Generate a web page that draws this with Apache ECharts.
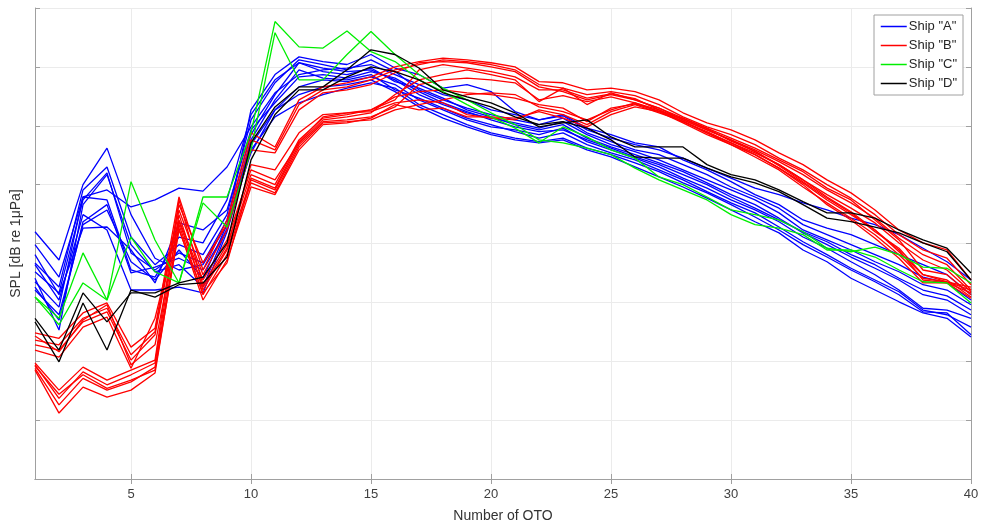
<!DOCTYPE html>
<html><head><meta charset="utf-8">
<script src="https://cdn.jsdelivr.net/npm/echarts@6/dist/echarts.min.js"></script>
<style>html,body{margin:0;padding:0;background:#fff}#c{width:984px;height:530px}</style>
</head><body><div id="c"></div>
<script>
// One-third-octave band numbers (x categories)
const otoBands = [1,2,3,4,5,6,7,8,9,10,11,12,13,14,15,16,17,18,19,20,21,22,23,24,25,26,27,28,29,30,31,32,33,34,35,36,37,38,39,40];
const xTickLabels = ['5','10','15','20','25','30','35','40'];
const yMin = 0, yMax = 80, yStep = 10; // relative dB, labels hidden as in the source

// Ship "A" (blue)
const shipA1 = [39.8,34.3,47.9,49.1,46.2,47.4,49.4,48.9,53.0,59.8,65.6,68.7,69.5,69.8,70.4,68.7,67.0,65.3,64.4,62.7,61.9,61.0,61.7,59.3,57.9,56.8,55.9,54.5,52.8,51.1,49.4,48.3,46.9,45.7,44.3,43.2,41.5,39.2,36.9,33.8];
const shipA2 = [42.0,37.2,50.0,56.2,44.9,37.5,35.5,36.4,43.2,62.7,68.7,71.7,70.9,70.4,72.1,69.8,68.7,66.4,67.0,65.8,62.4,61.0,61.9,59.6,58.5,57.1,56.4,54.2,52.5,50.5,48.3,46.6,44.0,42.6,41.5,39.8,38.1,36.4,34.7,31.3];
const shipA3 = [36.7,32.6,49.1,53.0,41.1,36.4,39.8,38.1,44.9,61.0,67.3,71.2,70.4,69.5,71.2,69.2,66.1,64.4,63.0,61.9,61.0,60.2,61.3,58.8,57.3,55.9,55.1,53.4,51.7,49.6,47.9,46.0,43.2,41.5,39.8,38.1,36.4,34.3,33.3,30.4];
const shipA4 = [35.2,31.6,47.4,52.0,38.4,35.5,38.4,36.7,44.0,58.5,65.3,70.7,69.8,69.2,69.5,67.8,65.3,63.6,62.2,61.3,60.5,59.6,60.7,58.5,56.8,55.6,54.2,52.5,50.8,49.1,47.4,45.2,42.3,40.6,38.9,36.9,35.2,33.0,32.1,29.6];
const shipA5 = [33.5,29.2,47.9,47.4,35.5,34.3,41.1,40.1,47.4,61.9,67.8,70.7,69.2,68.7,69.8,67.5,66.4,64.7,62.7,61.5,60.2,59.3,60.2,57.9,56.4,55.1,53.7,52.2,50.3,48.3,46.6,44.3,41.8,39.8,37.7,35.8,33.8,31.3,30.4,27.9];
const shipA6 = [32.6,27.0,43.7,46.6,35.0,36.0,37.5,35.5,42.3,56.8,62.7,66.6,67.8,67.5,68.3,67.0,64.4,62.7,61.0,59.8,59.3,58.5,59.6,57.3,55.9,54.5,53.0,51.1,49.4,47.4,45.7,43.7,41.1,39.2,36.9,34.7,32.1,29.0,28.7,27.3];
const shipA7 = [38.1,31.3,42.6,42.8,38.9,33.3,43.5,42.3,45.7,59.3,63.9,68.3,68.7,68.1,69.2,68.1,65.8,63.9,62.4,61.0,59.8,59.0,59.3,57.6,56.2,54.7,53.4,51.7,50.0,47.9,46.0,44.0,42.0,40.3,38.1,36.4,34.1,32.1,31.1,28.7];
const shipA8 = [36.4,30.4,44.9,42.3,32.1,32.1,32.6,31.6,42.0,55.9,61.5,63.9,65.3,66.4,67.3,66.4,63.6,61.9,60.2,58.8,57.9,57.3,57.9,56.2,55.1,53.7,52.2,50.3,48.6,46.6,44.5,42.3,39.8,37.7,35.5,33.5,31.3,28.4,28.2,24.5];
const shipA9 = [34.1,25.3,46.6,51.7,39.8,35.2,36.4,32.6,42.6,57.6,64.4,69.5,68.1,67.8,68.7,66.1,64.7,63.0,61.3,60.2,59.0,57.9,58.8,56.8,55.4,54.2,52.5,50.8,48.8,46.9,45.2,42.8,40.3,38.1,35.8,33.8,31.8,28.7,27.9,25.8];
const shipA10 = [32.1,27.9,43.2,45.7,36.9,33.8,38.9,34.1,43.2,55.4,62.7,65.3,66.6,67.0,67.8,65.8,63.2,61.3,59.8,58.5,57.6,57.1,57.6,55.9,54.7,53.0,51.3,49.6,47.7,45.7,43.7,41.8,38.9,36.9,34.1,32.1,30.1,28.2,27.3,24.1];

// Ship "B" (red)
const shipB1 = [24.8,23.9,28.2,29.9,22.4,25.6,47.9,35.5,44.0,58.8,56.4,64.4,66.6,67.3,68.3,70.0,70.9,71.5,71.2,70.7,70.0,67.5,67.3,66.1,66.4,65.8,64.4,62.2,60.5,59.3,57.6,55.4,53.4,50.8,48.6,45.7,42.3,40.1,38.9,33.8];
const shipB2 = [23.6,22.8,27.3,29.0,21.1,25.0,46.6,36.7,43.2,57.6,55.9,63.6,66.1,66.6,67.8,69.5,70.4,71.2,70.9,70.4,69.5,67.0,66.4,65.3,65.8,65.1,63.6,61.5,59.8,58.5,56.8,54.5,52.5,50.0,47.7,44.9,41.5,38.9,37.5,33.0];
const shipB3 = [22.8,21.9,26.7,28.4,20.2,24.5,45.7,34.7,42.3,55.9,55.4,62.7,65.6,66.1,67.0,69.0,70.7,70.9,70.7,70.0,69.2,66.6,65.8,64.4,65.3,64.4,63.0,61.0,59.3,57.6,55.9,53.9,51.7,49.1,46.9,44.3,40.9,38.1,36.4,32.1];
const shipB4 = [21.9,20.7,25.8,27.5,18.8,27.3,44.0,33.8,40.6,52.5,50.8,57.1,61.0,61.5,62.2,65.3,67.8,68.7,69.5,68.7,67.8,64.1,66.4,63.6,65.6,64.4,63.0,61.3,59.6,57.9,56.2,54.2,52.2,49.4,47.4,44.0,40.6,35.5,34.7,31.3];
const shipB5 = [19.7,15.1,19.0,16.8,18.5,20.2,47.4,33.0,39.8,51.7,50.0,57.6,61.3,61.9,62.7,64.4,69.5,70.4,69.8,69.2,68.3,66.1,66.1,64.7,65.4,64.6,62.7,60.7,58.8,57.1,55.4,53.4,50.8,48.3,46.0,43.5,40.1,37.2,35.5,31.8];
const shipB6 = [19.4,13.7,18.2,16.0,17.7,19.7,44.9,32.1,38.9,50.8,49.1,56.8,60.7,61.0,61.5,63.2,67.0,67.8,68.1,67.8,67.3,64.4,65.1,64.1,64.9,63.9,62.4,60.5,58.5,56.8,55.1,52.8,50.3,47.4,44.9,42.3,38.6,34.7,33.8,30.9];
const shipB7 = [18.8,12.6,17.1,15.1,16.5,19.0,43.2,31.3,38.1,50.3,48.6,56.4,60.5,60.7,61.0,62.7,63.6,64.4,65.3,65.6,65.3,63.2,62.4,61.0,62.7,63.9,62.7,61.0,59.3,57.6,55.6,53.4,50.8,47.9,45.4,42.3,38.9,33.8,33.3,31.6];
const shipB8 = [18.5,11.2,15.6,13.9,15.1,18.0,42.6,30.4,37.2,49.6,48.3,55.9,60.2,60.5,61.3,63.6,62.7,63.0,61.5,61.5,61.3,62.4,61.3,59.8,61.9,63.2,62.4,60.7,59.0,57.1,55.1,52.8,50.0,46.6,44.0,40.9,37.5,33.3,33.3,30.7];
const shipB9 = [19.2,14.4,17.7,15.4,16.8,18.5,42.3,31.6,36.7,51.1,49.4,57.3,61.5,62.2,62.4,63.9,64.4,63.9,61.9,61.3,61.0,62.7,61.9,60.2,62.4,63.6,62.2,60.8,58.8,56.8,54.7,52.5,49.6,46.9,44.3,41.5,38.1,34.1,33.5,32.1];
const shipB10 = [24.3,21.6,27.0,29.6,19.4,22.8,43.7,32.6,39.2,53.4,52.5,58.8,61.9,62.2,62.7,64.9,65.8,66.1,65.6,65.3,64.7,63.6,63.0,60.7,63.0,63.7,62.5,61.2,59.5,57.4,55.7,53.2,50.5,47.7,45.2,42.0,39.2,34.7,33.5,32.6];

// Ship "C" (green)
const shipC1 = [30.9,27.3,38.4,30.4,50.5,40.6,33.3,47.9,47.9,58.8,77.7,73.4,73.2,76.1,72.6,70.9,67.8,65.8,63.6,61.5,59.6,57.1,59.8,58.1,55.9,54.5,51.3,50.0,47.9,45.7,44.9,44.0,42.0,39.2,38.6,39.4,38.1,36.0,35.8,33.3];
const shipC2 = [30.9,26.2,33.3,30.4,41.1,35.2,33.3,46.9,42.8,55.9,75.8,67.8,67.8,72.1,76.0,72.1,68.7,66.4,64.4,62.2,60.2,57.6,57.1,56.2,55.1,52.8,50.8,49.1,47.4,44.9,43.2,42.6,41.5,38.9,38.9,37.7,35.5,33.5,33.3,29.9];

// Ship "D" (black)
const shipD1 = [27.3,21.9,31.6,26.7,31.6,31.6,33.3,34.3,40.1,57.1,63.2,66.6,66.6,69.5,72.9,72.1,69.8,66.1,64.9,63.9,62.2,59.8,60.5,61.0,58.1,56.4,56.4,56.4,53.4,51.7,50.8,49.1,47.1,45.2,45.2,44.3,42.3,40.6,39.2,35.0];
const shipD2 = [26.7,19.9,29.9,21.9,32.1,30.9,33.0,33.3,37.7,54.2,61.9,66.1,66.1,68.3,70.0,69.2,67.8,65.6,64.4,63.2,61.5,60.2,60.7,59.6,57.6,54.7,54.5,54.5,52.8,51.3,50.3,48.8,46.6,44.3,43.7,42.8,41.8,40.1,38.6,33.8];

const shipNames = ['Ship "A"','Ship "B"','Ship "C"','Ship "D"'];
const shipColors = ['#0000ff','#ff0000','#00ee00','#000000'];
const shipLines = [
  [shipA1,shipA2,shipA3,shipA4,shipA5,shipA6,shipA7,shipA8,shipA9,shipA10],
  [shipB1,shipB2,shipB3,shipB4,shipB5,shipB6,shipB7,shipB8,shipB9,shipB10],
  [shipC1,shipC2],
  [shipD1,shipD2]
];

const series = [];
shipLines.forEach((lines, gi) => {
  lines.forEach(d => {
    series.push({
      type: 'line', name: shipNames[gi], data: d, symbol: 'none', silent: true,
      xAxisIndex: 0, yAxisIndex: 0,
      lineStyle: { color: shipColors[gi], width: 1.3 },
      itemStyle: { color: shipColors[gi] }
    });
  });
});

const cats = otoBands.map(String);
const isTick = (i, v) => xTickLabels.indexOf(String(v)) >= 0;
const FONT = '"Liberation Sans", Arial, Helvetica, sans-serif';
const axisGray = '#a0a0a0';

const chart = echarts.init(document.getElementById('c'), null, { renderer: 'canvas' });
chart.setOption({
  animation: false,
  backgroundColor: '#ffffff',
  textStyle: { fontFamily: FONT },
  grid: { left: 35, right: 13, top: 8, bottom: 51 },
  legend: {
    data: shipNames,
    orient: 'vertical',
    right: 21, top: 15,
    backgroundColor: '#ffffff',
    borderColor: '#a0a0a0', borderWidth: 1,
    padding: [5, 6, 5, 6],
    itemGap: 6, itemWidth: 26, itemHeight: 13,
    itemStyle: { opacity: 0 },
    lineStyle: { width: 1.5 },
    textStyle: { fontSize: 13, color: '#262626', fontFamily: FONT, padding: [0, 0, 0, -3] },
    selectedMode: false
  },
  xAxis: [{
    type: 'category', data: cats, boundaryGap: false, position: 'bottom',
    name: 'Number of OTO', nameLocation: 'middle', nameGap: 30,
    nameTextStyle: { fontSize: 14, color: '#333333', fontFamily: FONT },
    axisLine: { show: true, lineStyle: { color: axisGray, width: 1 } },
    axisTick: { show: true, inside: true, length: 5, interval: isTick, lineStyle: { color: axisGray } },
    axisLabel: { show: true, interval: isTick, fontSize: 13, color: '#404040', margin: 9, fontFamily: FONT },
    splitLine: { show: true, interval: isTick, lineStyle: { color: '#ebebeb', width: 1 } }
  }, {
    type: 'category', data: cats, boundaryGap: false, position: 'top',
    axisLine: { show: true, lineStyle: { color: axisGray, width: 1 } },
    axisTick: { show: true, inside: true, length: 5, interval: isTick, lineStyle: { color: axisGray } },
    axisLabel: { show: false },
    splitLine: { show: false }
  }],
  yAxis: [{
    type: 'value', min: yMin, max: yMax, interval: yStep, position: 'left',
    name: 'SPL [dB re 1\u03bcPa]', nameLocation: 'middle', nameGap: 12,
    nameTextStyle: { fontSize: 14, color: '#333333', fontFamily: FONT },
    axisLine: { show: true, lineStyle: { color: axisGray, width: 1 } },
    axisTick: { show: true, inside: true, length: 5, lineStyle: { color: axisGray } },
    axisLabel: { show: false },
    splitLine: { show: true, lineStyle: { color: '#ebebeb', width: 1 } }
  }, {
    type: 'value', min: yMin, max: yMax, interval: yStep, position: 'right',
    axisLine: { show: true, lineStyle: { color: axisGray, width: 1 } },
    axisTick: { show: true, inside: true, length: 5, lineStyle: { color: axisGray } },
    axisLabel: { show: false },
    splitLine: { show: false }
  }],
  series: series
});
</script>
</body></html>
